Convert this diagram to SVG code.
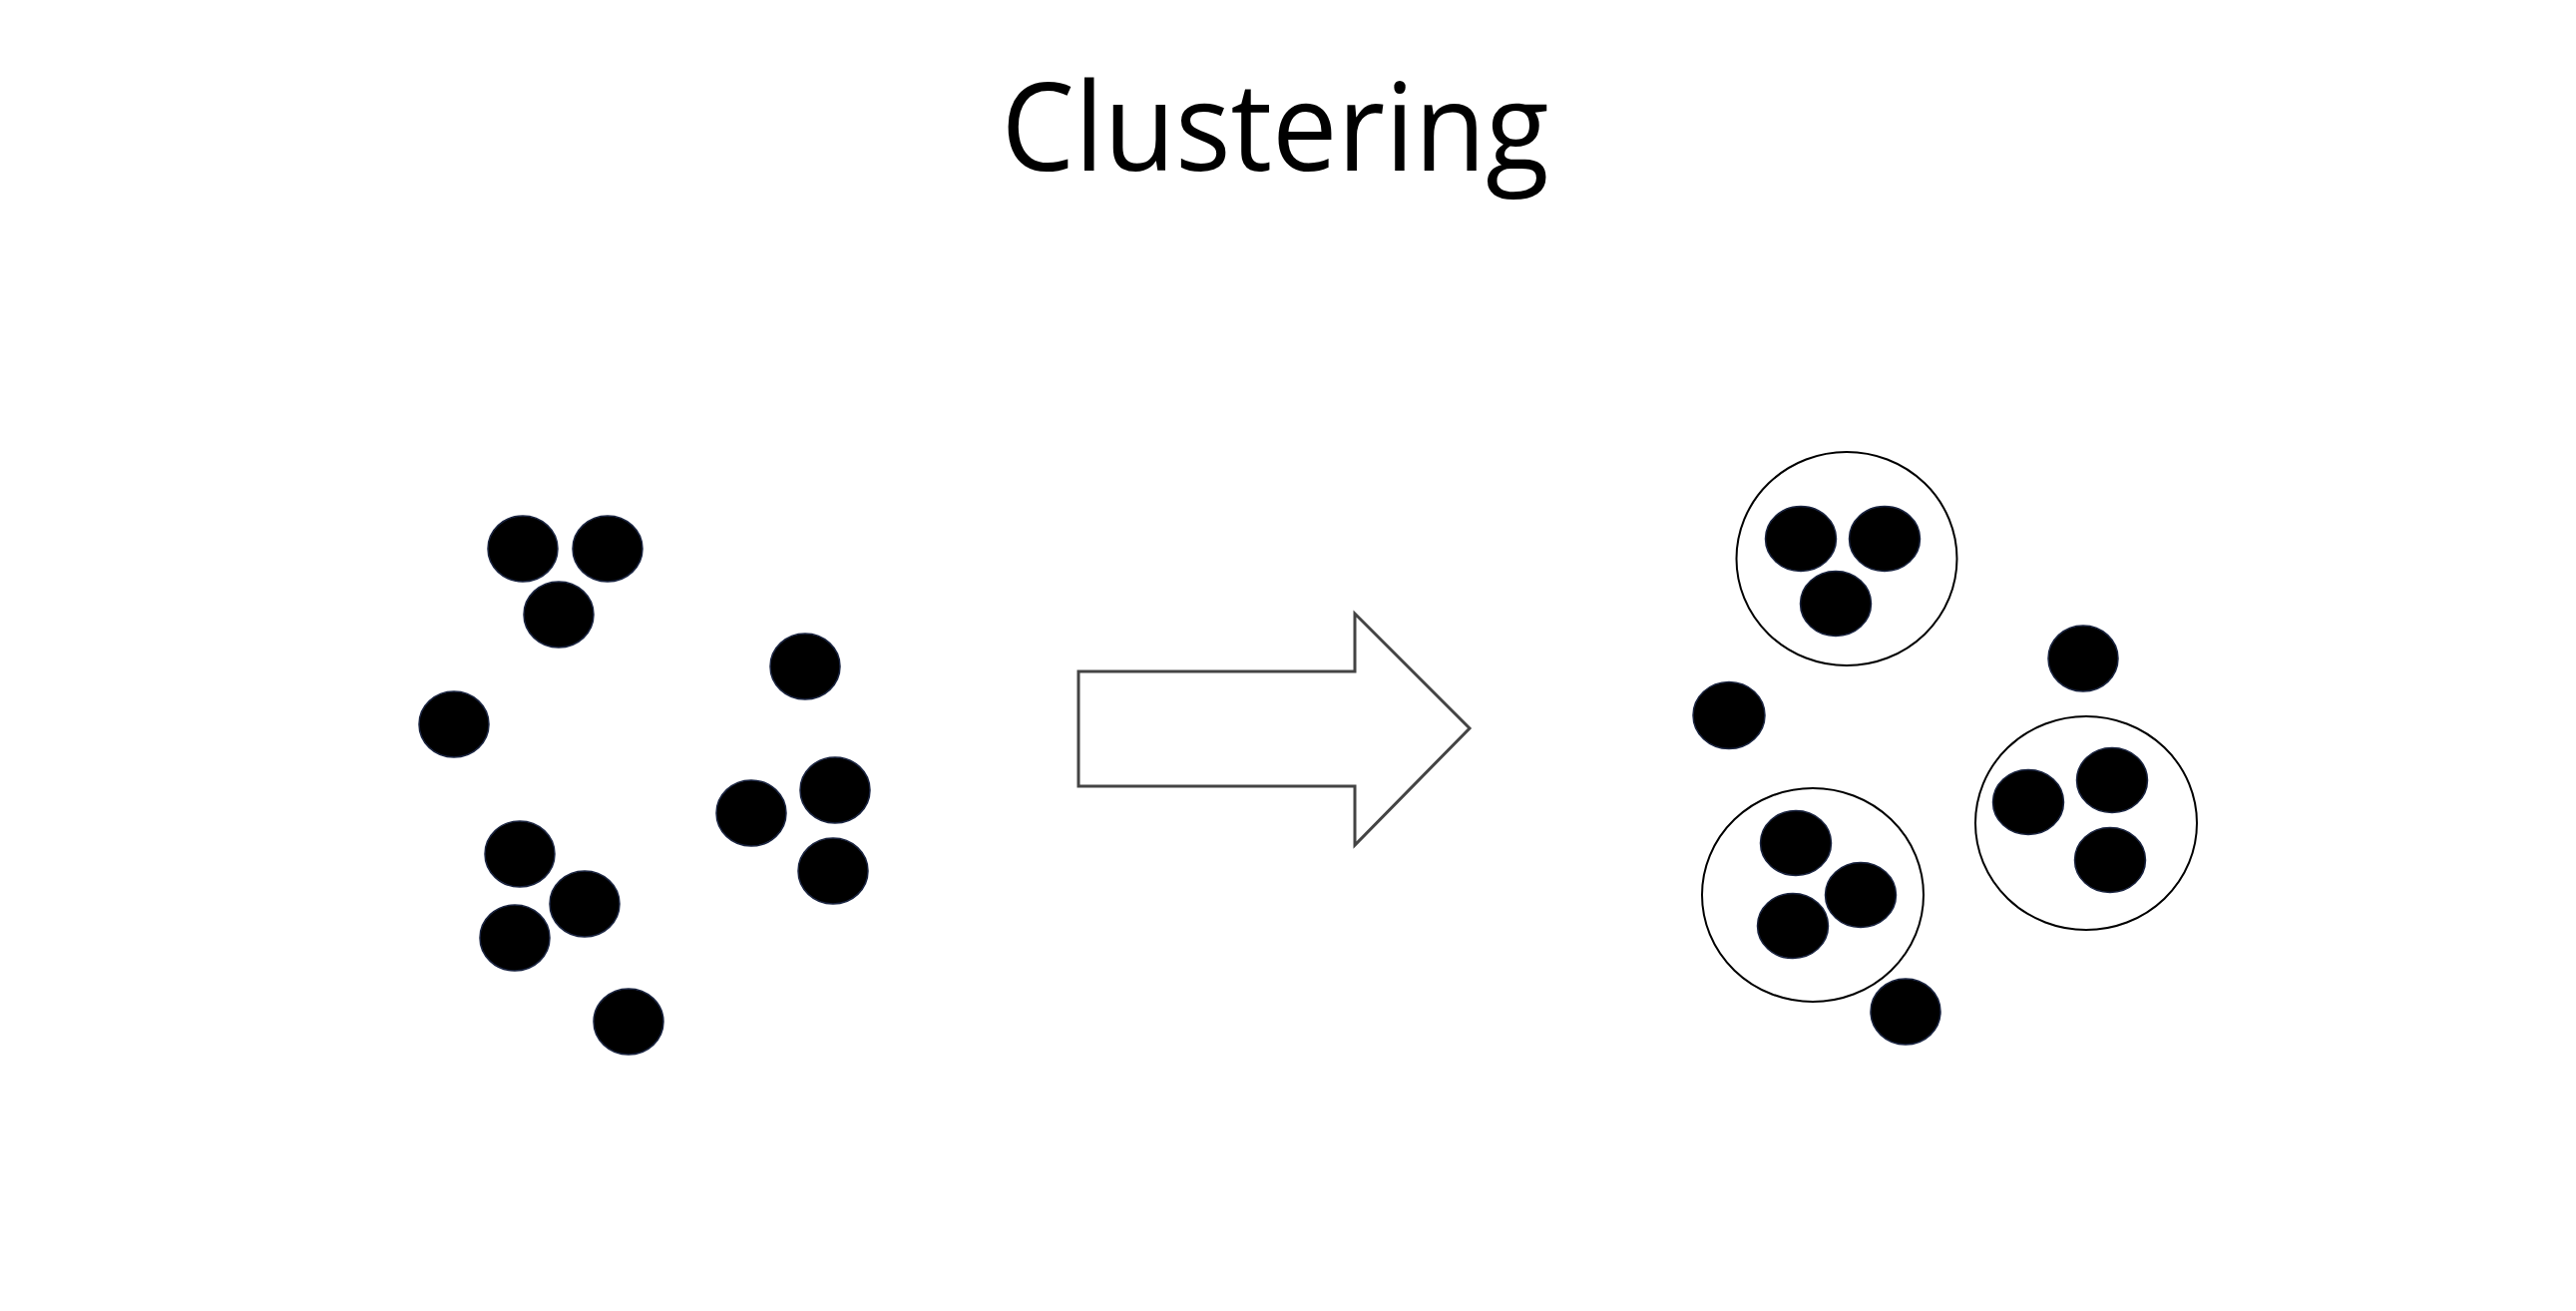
<svg xmlns="http://www.w3.org/2000/svg" width="2582" height="1314" viewBox="0 0 2582 1314">
<style>
.dot{fill:#000;stroke:#1a2440;stroke-width:1.5}
.clu{fill:none;stroke:#000;stroke-width:2}
.arrow{fill:#fff;stroke:#444;stroke-width:3;stroke-linejoin:miter}
.title{font-family:"Open Sans","Noto Sans",sans-serif;font-size:123px;fill:#000}
</style>
<rect width="2582" height="1314" fill="#fff"/>
<text class="title" x="1278" y="171" text-anchor="middle" textLength="549" lengthAdjust="spacingAndGlyphs">Clustering</text>
<g id="left-points">
<ellipse class="dot" cx="524" cy="550" rx="35" ry="33"/>
<ellipse class="dot" cx="609" cy="550" rx="35" ry="33"/>
<ellipse class="dot" cx="560" cy="616" rx="35" ry="33"/>
<ellipse class="dot" cx="807" cy="668" rx="35" ry="33"/>
<ellipse class="dot" cx="455" cy="726" rx="35" ry="33"/>
<ellipse class="dot" cx="837" cy="792" rx="35" ry="33"/>
<ellipse class="dot" cx="753" cy="815" rx="35" ry="33"/>
<ellipse class="dot" cx="835" cy="873" rx="35" ry="33"/>
<ellipse class="dot" cx="521" cy="856" rx="35" ry="33"/>
<ellipse class="dot" cx="586" cy="906" rx="35" ry="33"/>
<ellipse class="dot" cx="516" cy="940" rx="35" ry="33"/>
<ellipse class="dot" cx="630" cy="1024" rx="35" ry="33"/>
</g>
<g id="connectors">
<path id="arrow" class="arrow" d="M1081,673 L1358,673 L1358,615 L1473,730 L1358,847 L1358,788 L1081,788 Z"/>
</g>
<g id="cluster-1">
<ellipse class="clu" cx="1851" cy="560" rx="110.5" ry="107"/>
<ellipse class="dot" cx="1805" cy="540" rx="35.5" ry="32.5"/>
<ellipse class="dot" cx="1889" cy="540" rx="35.5" ry="32.5"/>
<ellipse class="dot" cx="1840" cy="605" rx="35.5" ry="32.5"/>
</g>
<g id="cluster-2">
<ellipse class="clu" cx="1817" cy="897" rx="111" ry="107"/>
<ellipse class="dot" cx="1800" cy="845" rx="35.5" ry="32.5"/>
<ellipse class="dot" cx="1865" cy="897" rx="35.5" ry="32.5"/>
<ellipse class="dot" cx="1797" cy="928" rx="35.5" ry="32.5"/>
</g>
<g id="cluster-3">
<ellipse class="clu" cx="2091" cy="825" rx="111" ry="107"/>
<ellipse class="dot" cx="2033" cy="804" rx="35.5" ry="32.5"/>
<ellipse class="dot" cx="2117" cy="782" rx="35.5" ry="32.5"/>
<ellipse class="dot" cx="2115" cy="862" rx="35.5" ry="32.5"/>
</g>
<g id="outliers">
<ellipse class="dot" cx="1733" cy="717" rx="36" ry="33.5"/>
<ellipse class="dot" cx="2088" cy="660" rx="35" ry="33"/>
<ellipse class="dot" cx="1910" cy="1014" rx="35" ry="33"/>
</g>
</svg>
